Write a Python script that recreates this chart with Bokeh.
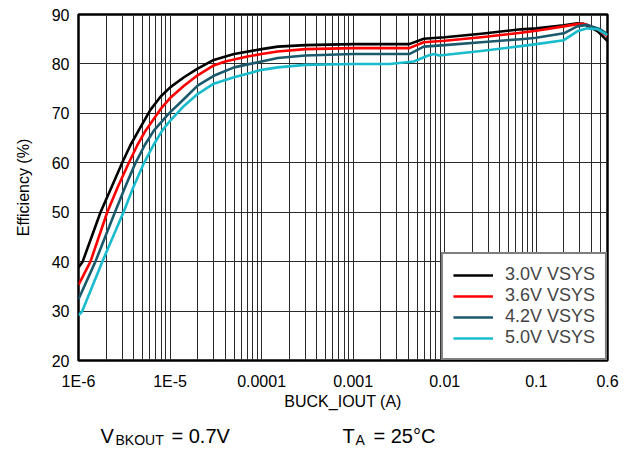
from bokeh.plotting import figure
from bokeh.models import FixedTicker, Label, Legend
from bokeh.layouts import column
from bokeh.embed import file_html
from bokeh.resources import INLINE

# ---- data ----
series_names = ["3.0V VSYS", "3.6V VSYS", "4.2V VSYS", "5.0V VSYS"]
series_colors = ["#000000", "#ff0000", "#1b5a6c", "#18bccd"]

iout_30 = [1e-6, 1.11e-6, 1.74e-6, 2.3e-6, 3.0e-6, 3.7e-6, 4.56e-6, 6.1e-6, 7.9e-6, 1.01e-5,
           1.42e-5, 1.98e-5, 3.0e-5, 5e-5, 1e-4, 1.5e-4, 3e-4, 1e-3, 4.1e-3, 5.9e-3,
           1e-2, 2.5e-2, 6.8e-2, 0.1, 0.2, 0.28, 0.33, 0.47, 0.6]
eff_30 = [38.8, 40.0, 50.0, 55.1, 60.0, 63.6, 66.6, 70.7, 73.4, 75.3,
          77.3, 79.0, 80.8, 82.0, 83.0, 83.5, 83.8, 84.0, 84.0, 85.1,
          85.4, 86.1, 87.0, 87.2, 87.8, 88.2, 88.1, 86.6, 84.6]

iout_36 = [1e-6, 1.35e-6, 2.06e-6, 2.7e-6, 3.55e-6, 4.4e-6, 5.4e-6, 7.9e-6, 1.0e-5, 1.42e-5,
           2.0e-5, 3.0e-5, 4.0e-5, 7e-5, 1e-4, 1.5e-4, 3e-4, 1e-3, 4.1e-3, 5.9e-3,
           1e-2, 2.5e-2, 6.8e-2, 0.1, 0.2, 0.29, 0.35, 0.47, 0.6]
eff_36 = [35.3, 40.0, 50.0, 55.2, 60.0, 63.6, 66.5, 70.9, 73.1, 75.6,
          77.7, 79.7, 80.5, 81.5, 82.0, 82.5, 83.0, 83.2, 83.2, 84.4,
          84.7, 85.4, 86.3, 86.7, 87.6, 88.1, 88.0, 87.0, 85.6]

iout_42 = [1e-6, 1.53e-6, 2.5e-6, 3.25e-6, 4.2e-6, 5.3e-6, 6.65e-6, 9e-6, 1.0e-5, 1.42e-5,
           2.0e-5, 3.0e-5, 5e-5, 1e-4, 1.5e-4, 3e-4, 1e-3, 4.1e-3, 5.9e-3, 1e-2,
           2.5e-2, 6.8e-2, 0.1, 0.2, 0.28, 0.36, 0.5, 0.6]
eff_42 = [32.4, 40.0, 50.0, 55.2, 60.0, 63.6, 66.5, 69.3, 70.2, 72.9,
          75.6, 77.6, 79.3, 80.5, 81.2, 81.7, 82.0, 82.0, 83.5, 83.8,
          84.4, 85.0, 85.3, 86.2, 87.6, 87.9, 87.0, 86.0]

iout_50 = [1e-6, 1.1e-6, 1.82e-6, 3.1e-6, 4.0e-6, 5.2e-6, 6.6e-6, 8.2e-6, 1.0e-5, 1.42e-5,
           2.0e-5, 3.0e-5, 5e-5, 1e-4, 1.5e-4, 3e-4, 1e-3, 2.5e-3, 4.6e-3, 6.6e-3,
           7.7e-3, 8.7e-3, 2.5e-2, 6.8e-2, 0.1, 0.2, 0.28, 0.36, 0.47, 0.6]
eff_50 = [29.1, 30.0, 40.0, 50.0, 55.2, 60.0, 63.6, 66.5, 68.5, 71.5,
          73.9, 76.0, 77.3, 78.8, 79.3, 79.8, 80.0, 80.0, 80.5, 81.7,
          82.0, 81.7, 82.6, 83.6, 84.0, 84.8, 86.6, 87.2, 87.0, 85.8]

x_ticks = [1e-6, 1e-5, 1e-4, 1e-3, 1e-2, 0.1, 0.6]
x_tick_labels = ["1E-6", "1E-5", "0.0001", "0.001", "0.01", "0.1", "0.6"]
y_ticks = [20, 30, 40, 50, 60, 70, 80, 90]

FONT = "Liberation Sans"

p = figure(width=634, height=420, x_axis_type="log",
           x_range=(1e-6, 0.6), y_range=(20, 90),
           output_backend="svg", toolbar_location=None,
           min_border_left=78, min_border_right=27,
           min_border_top=14, min_border_bottom=60)

# minor grid positions: 2..9 times each decade, within the range
minor = []
for dec in [1e-6, 1e-5, 1e-4, 1e-3, 1e-2, 1e-1]:
    for m in range(2, 10):
        v = m * dec
        if v < 0.6:
            minor.append(v)

p.xaxis.ticker = FixedTicker(ticks=x_ticks, minor_ticks=minor)
p.xaxis.major_label_overrides = {t: l for t, l in zip(x_ticks, x_tick_labels)}
p.yaxis.ticker = FixedTicker(ticks=y_ticks)

for ax in (p.xaxis, p.yaxis):
    ax.major_tick_out = 0
    ax.major_tick_in = 0
    ax.minor_tick_out = 0
    ax.minor_tick_in = 0
    ax.axis_line_color = None
    ax.major_label_text_font = FONT
    ax.major_label_text_font_size = "16px"
    ax.major_label_text_color = "#000000"
    ax.axis_label_text_font = FONT
    ax.axis_label_text_font_size = "16px"
    ax.axis_label_text_font_style = "normal"
    ax.axis_label_text_color = "#000000"

p.xaxis.axis_label = "BUCK_IOUT (A)"
p.yaxis.axis_label = "Efficiency (%)"
p.xaxis.major_label_standoff = 12
p.xaxis.axis_label_standoff = 0
p.yaxis.major_label_standoff = 9
p.yaxis.axis_label_standoff = 17

grid_color = "#2a2a2a"
p.xgrid.grid_line_color = grid_color
p.xgrid.grid_line_width = 1
p.xgrid.minor_grid_line_color = grid_color
p.xgrid.minor_grid_line_width = 1
p.ygrid.grid_line_color = grid_color
p.ygrid.grid_line_width = 1

p.outline_line_color = "#000000"
p.outline_line_width = 2.5
p.background_fill_color = "white"
p.border_fill_color = "white"

xs = [iout_30, iout_36, iout_42, iout_50]
ys = [eff_30, eff_36, eff_42, eff_50]
items = []
for x, y, c, n in zip(xs, ys, series_colors, series_names):
    r = p.line(x, y, line_color=c, line_width=2.6, line_join="round")
    items.append((n, [r]))

legend = Legend(items=items, location="bottom_right")
legend.margin = 0
legend.padding = 10
legend.spacing = 0
legend.label_height = 20
legend.glyph_height = 20
legend.glyph_width = 40
legend.label_standoff = 12
legend.label_text_font = FONT
legend.label_text_font_size = "18px"
legend.border_line_color = "#000000"
legend.border_line_width = 2
legend.background_fill_color = "white"
legend.background_fill_alpha = 1.0
p.add_layout(legend)

# strip below the chart carrying the test-condition notes
# (its frame is aligned with the chart's frame: x 78..607 on the page)
notes = figure(width=634, height=31, x_range=(78, 607), y_range=(0, 31),
               output_backend="svg", toolbar_location=None,
               x_axis_location=None, y_axis_location=None,
               min_border_left=78, min_border_right=27,
               min_border_top=0, min_border_bottom=0)
notes.grid.visible = False
notes.outline_line_color = None
notes.background_fill_color = "white"
notes.border_fill_color = "white"

def lab(x, y, t, size):
    notes.add_layout(Label(x=x, y=y, text=t,
                           text_font=FONT, text_font_size=size, text_color="#000000",
                           text_baseline="alphabetic"))

lab(100, 16, "V", "20px")
lab(115, 12, "BKOUT", "14px")
lab(171, 16, "= 0.7V", "20px")
lab(342, 16, "T", "20px")
lab(355, 12, "A", "14px")
lab(373, 16, "= 25°C", "20px")

layout = column(p, notes, spacing=0)
open("out.html", "w").write(file_html(layout, INLINE))
